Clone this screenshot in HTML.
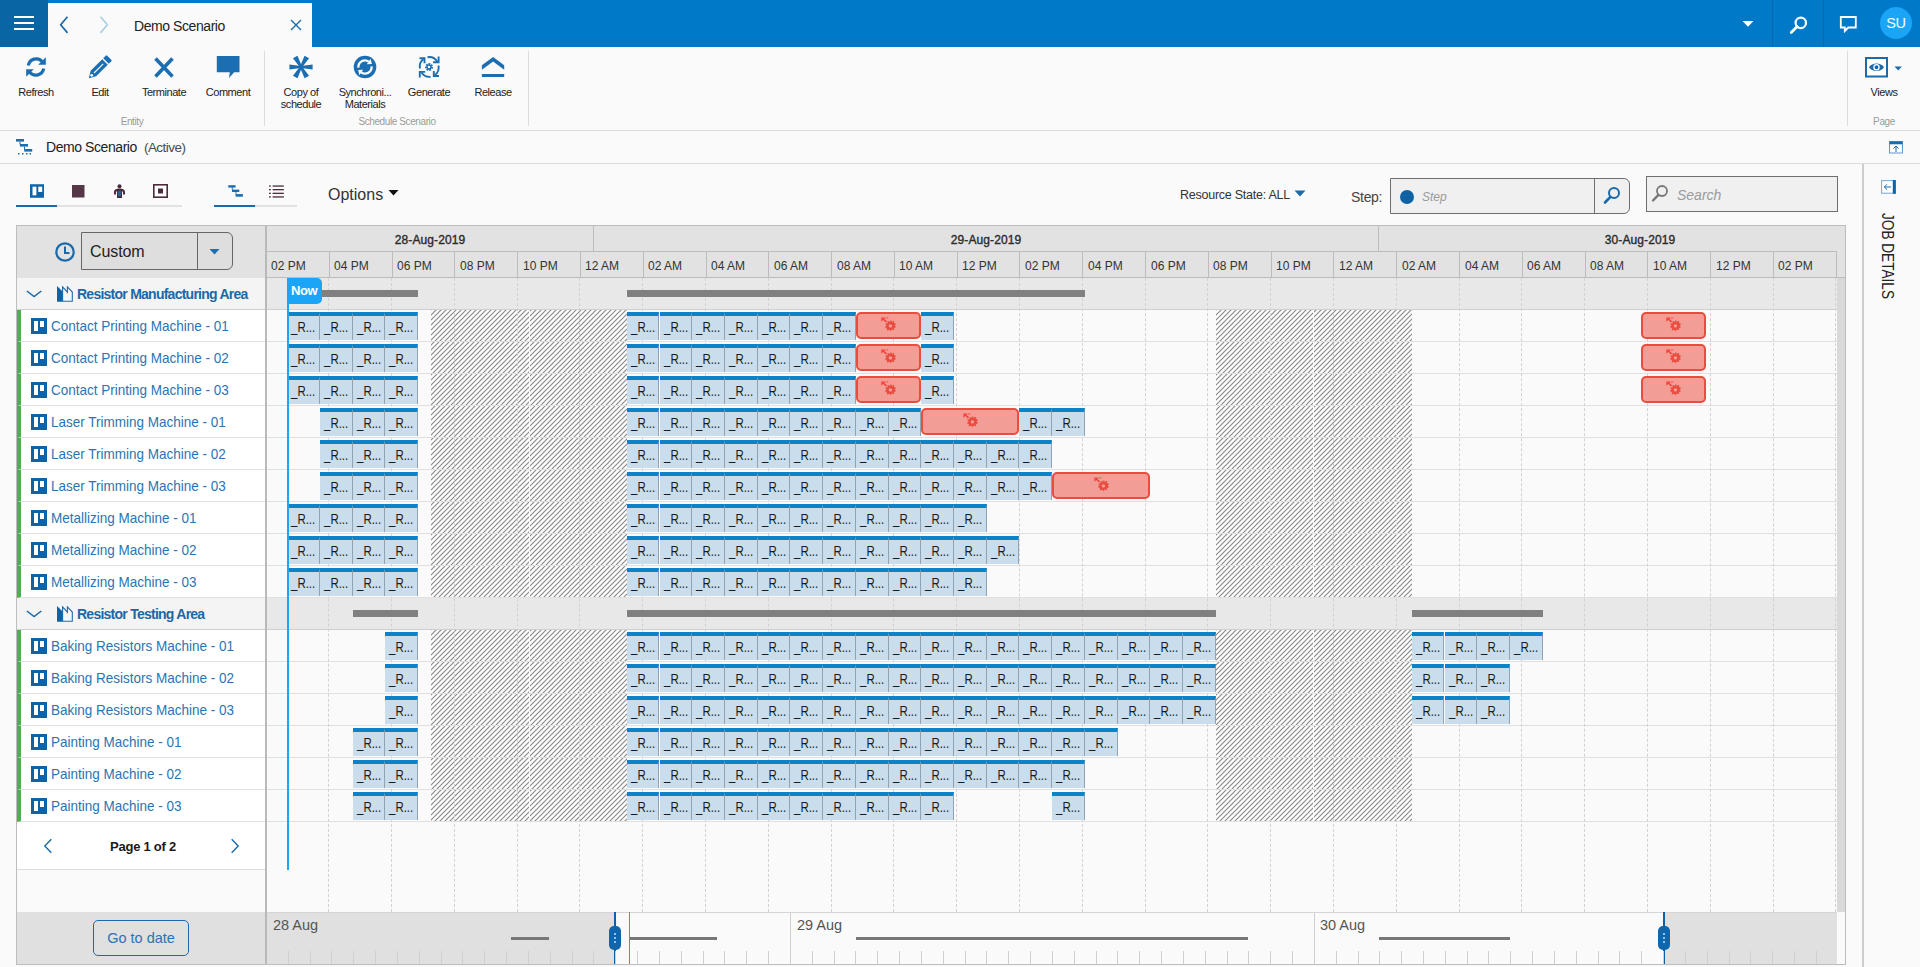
<!DOCTYPE html><html><head><meta charset="utf-8"><title>Demo Scenario</title><style>
*{box-sizing:border-box;margin:0;padding:0}
html,body{width:1920px;height:967px;overflow:hidden;background:#fafafa;font-family:"Liberation Sans",sans-serif;color:#222}
body{position:relative}
div,span,i,b,s,svg{position:absolute}
i,b{font-style:normal;font-weight:normal}
/* ---------- top bar ---------- */
#bar{left:0;top:0;width:1920px;height:47px;background:#0079c8}
#ham{left:0;top:0;width:48px;height:47px;background:#0a65a5}
#ham s{left:14px;width:20px;height:2px;background:#fff}
#tab{left:48px;top:3px;width:264px;height:44px;background:#fafafa}
#tabt{left:134px;top:16px;font-size:14px;letter-spacing:-.43px;line-height:20px;color:#222;white-space:nowrap}
.sepb{top:0;width:1px;height:47px;background:#0a68b0}
#av{left:1880px;top:7px;width:32px;height:32px;border-radius:50%;background:#1ba5f7;color:#fff;font-size:14.5px;line-height:33px;text-align:center;letter-spacing:-.3px}
/* ---------- ribbon ---------- */
#rib{left:0;top:47px;width:1920px;height:84px;background:#fafafa;border-bottom:1px solid #dcdcdc}
.rb{top:53px;width:64px;height:60px}
.rb svg{left:20px;top:2px;width:24px;height:24px}
.rb span{left:-8px;width:80px;top:33px;text-align:center;font-size:11px;letter-spacing:-.45px;line-height:12px;color:#222}
.rsep{top:51px;width:1px;height:75px;background:#dcdcdc}
.rgl{top:115.5px;font-size:10px;letter-spacing:-.4px;line-height:12px;color:#9a9a9a;width:120px;text-align:center}
/* title row */
#trow{left:0;top:131px;width:1920px;height:33px;border-bottom:1px solid #dcdcdc}
#tt{left:46px;top:137px;font-size:14px;letter-spacing:-.43px;line-height:20px;white-space:nowrap;color:#222}
#tt span{position:static;color:#4a4a4a;margin-left:7px;font-size:13.5px;letter-spacing:-.52px}
/* tool row */
.ul{top:205px;height:2px;background:#e2e2e2}
.ula{top:205px;height:2px;background:#1b6aa9}
#opt{left:328px;top:184px;font-size:16px;line-height:22px;color:#333}
.ibox{border:1px solid #6f6f6f;background:#f0f0f0}
.ph{font-style:italic;color:#9a9a9a}
/* ---------- chart ---------- */
#chart{left:0;top:0;width:1920px;height:967px}
.frame{left:16px;top:225px;width:1830px;height:740px;border:1px solid #bdbdbd}
.hd{left:266px;top:226px;width:1579px;height:52px;background:#e2e2e2;border-bottom:1px solid #bcbcbc}
.hd2{left:266px;top:251px;width:1571px;height:1px;background:#bcbcbc}
.dv{top:226px;width:1px;height:26px;background:#bcbcbc}
.dl{top:233px;width:100px;text-align:center;font-size:12px;-webkit-text-stroke:.35px #2a2a2a;letter-spacing:.1px;line-height:14px;color:#2a2a2a}
.tk{top:252px;width:1px;height:26px;background:#bcbcbc}
.hl{top:259px;font-size:12px;line-height:14px;color:#333;white-space:nowrap}
.body{left:267px;top:278px;width:1570px;height:634px;background:#fafafa}
.grow{left:267px;width:1570px;height:32px;background:#e8e8e8;border-bottom:1px solid #cfcfcf}
.rl{left:267px;width:1570px;height:1px;background:#e0e0e0}
.dt{top:278px;width:0;height:634px;border-left:1px dashed #d2d2d2}
.hx{top:310px;width:1px;height:288px;background:rgba(255,255,255,.9)}
.sb{height:7px;background:#808080}
i{height:28px;background:#c9ddec;border-top:4px solid #0c82c9;border-right:1px solid #8fa3b5;overflow:hidden}
u{position:absolute;left:3.6px;top:0;text-decoration:none;font-size:14px;line-height:22px;color:#1a1a1a;white-space:nowrap;transform-origin:0 0;transform:scaleX(.82)}
b{height:27px;background:#f29d95;border:2px solid #ea4c40;border-radius:5px}
b .g{left:50%;top:1.8px;margin-left:-8.3px;width:16px;height:16px}
.vs{left:1837px;top:278px;width:8px;height:634px;background:#d9d9d9}
.nowl{left:287px;top:278px;width:2px;height:592px;background:#1ba5f7}
.nowf{left:287px;top:278px;width:35px;height:26px;background:#1ba5f7;border-radius:0 5px 5px 0;color:#fff;font-size:13px;font-weight:bold;letter-spacing:-.4px;line-height:26px;padding-left:4px}
/* left panel */
#left{left:0;top:0}
.lbg{left:17px;top:226px;width:248px;height:738px;background:#fafafa}
.lbr{left:265px;top:226px;width:2px;height:738px;background:#b9b9b9}
.lh{left:17px;top:226px;width:248px;height:52px;background:#e2e2e2}
.lg{left:17px;width:248px;height:32px;background:#f4f4f4;border-bottom:1px solid #cfcfcf}
.lg .chev{left:9px;top:12px;width:16px;height:8px}
.lg .fac{left:40px;top:8px;width:16px;height:16px}
.lg span{left:60px;top:7px;font-size:14px;font-weight:bold;letter-spacing:-.75px;line-height:18px;color:#1b68a8;white-space:nowrap}
.lr{left:17px;width:248px;height:32px;background:#fff;border-bottom:1px solid #e0e0e0;border-left:4px solid #4caf50}
.lr .ri{left:10px;top:8px;width:16px;height:16px}
.lr span{left:30px;top:7px;font-size:15px;line-height:18px;color:#2b74b3;white-space:nowrap;transform-origin:0 0;transform:scaleX(.9)}
.pg{left:17px;top:822px;width:248px;height:48px;background:#fff;border-bottom:1px solid #dcdcdc}
.pgt{left:17px;top:839px;width:252px;text-align:center;font-size:13px;font-weight:bold;letter-spacing:-.25px;line-height:16px;color:#1a1a1a}
.lf{left:17px;top:912px;width:248px;height:52px;background:#e0e0e0}
.gtd{left:93px;top:920px;width:96px;height:36px;border:1px solid #1b6aad;border-radius:5px;color:#2b72b2;font-size:14.5px;line-height:34px;text-align:center}
/* mini timeline */
.mbg{left:267px;top:912px;width:1570px;height:52px;background:#fafafa;border-top:1px solid #d5d5d5}
.mg{top:913px;height:51px;background:#e0e0e0}
.ml{top:916px;font-size:14.5px;line-height:18px;color:#555;white-space:nowrap}
.md{top:913px;width:1px;height:51px;background:#cfcfcf}
.mt{top:951px;width:1px;height:13px;background:#cfcfcf}
.mb{top:937px;height:3px;background:#777}
.mh{top:912px;width:2px;height:52px;background:#0d5fa6}
.mk{top:926px;width:12px;height:24px;border-radius:5px;background:#0f66ad}
.mk s{left:5px;width:2px;height:2px;background:#8cc4ee}
/* right */
#rp{left:1862px;top:164px;width:2px;height:803px;background:#cdcdcd}
#jd{left:1888.2px;top:212.5px;width:0;height:0}
#jd span{left:0;top:-9px;transform-origin:0 50%;transform:rotate(90deg) scaleX(.825);font-size:16.5px;line-height:18px;height:18px;white-space:nowrap;color:#222}

</style></head><body>
<svg width="0" height="0" style="left:-10px;top:-10px"><defs>
<g id="gear"><path fill="#ea4c40" d="M10.2 4.3l1 .2.3 1.2 1-.1.9-.8.8.6-.4 1.1.7.8 1.2.1.2 1-1 .6v1l1 .6-.2 1-1.2.1-.7.8.4 1.1-.8.6-.9-.8-1 .1-.3 1.2-1 .2-.6-1-1-.2-1 .7-.8-.5.2-1.200-.6-.9-1.200-.2-.1-1 1.100-.5.100-1-.9-.8.3-1 1.200.1.800-.8-.3-1.200.9-.5.900.8 1-.3zM10.400 8.200a1.700 1.700 0 1 0 .01 0z" fill-rule="evenodd"/><path fill="#ea4c40" d="M1.300 1.400h4.600L4.500 2.800l2.600 2.400-1.300 1.300-2.500-2.500-2 1.800z"/><path fill="#ea4c40" d="M6.200 1.400h2.600l-1.200 1.100-1.400.1z"/></g>
</defs></svg>
<div id="bar"></div>
<div id="ham"><s style="top:16px"></s><s style="top:22px"></s><s style="top:28px"></s></div>
<div id="tab"></div>
<svg style="left:58px;top:15px" width="12" height="20" viewBox="0 0 12 20"><path d="M9.500 1.700L2.700 9.800l6.800 8.100" fill="none" stroke="#1b6aa9" stroke-width="1.700"/></svg>
<svg style="left:98px;top:15px" width="12" height="20" viewBox="0 0 12 20"><path d="M2.500 1.700l6.800 8.100-6.800 8.100" fill="none" stroke="#a9d0e4" stroke-width="1.700"/></svg>
<div id="tabt">Demo Scenario</div>
<svg style="left:290px;top:19px" width="12" height="12" viewBox="0 0 12 12"><path d="M1 1l10 10M11 1L1 11" fill="none" stroke="#1b6aa9" stroke-width="1.400"/></svg>
<svg style="left:1742px;top:21px" width="12" height="6" viewBox="0 0 12 6"><path d="M.500 0h11L6 5.800z" fill="#fff"/></svg>
<div class="sepb" style="left:1772px"></div><div class="sepb" style="left:1823px"></div>
<svg style="left:1788px;top:14px" width="22" height="22" viewBox="0 0 22 22"><circle cx="12.800" cy="8.900" r="5.200" fill="none" stroke="#fff" stroke-width="2.200"/><path d="M9.200 12.600L3.200 18.400" stroke="#fff" stroke-width="2.800" stroke-linecap="round"/></svg>
<svg style="left:1838px;top:14px" width="20" height="20" viewBox="0 0 20 20"><path d="M2.800 3h15v10.500h-7.500L6.800 17v-3.500h-4z" fill="none" stroke="#fff" stroke-width="1.800" stroke-linejoin="miter"/></svg>
<div id="av">SU</div>

<div id="rib"></div>
<div class="rb" style="left:4px"><svg viewBox="0 0 24 24"><path d="M4.300 10.500a8 8 0 0 1 14-3.800" fill="none" stroke="#1b6eb2" stroke-width="3.200"/><path d="M21.800 2.200v7.600h-7.600z" fill="#1b6eb2"/><path d="M19.700 13.500a8 8 0 0 1-14 3.800" fill="none" stroke="#1b6eb2" stroke-width="3.200"/><path d="M2.200 21.800v-7.600h7.600z" fill="#1b6eb2"/></svg><span>Refresh</span></div>
<div class="rb" style="left:68px"><svg viewBox="0 0 24 24"><path d="M.8 23.200L2.650 15.850 14.250 4.250l5.500 5.500L8.150 21.350z" fill="#1b6eb2"/><path d="M15.250 3.250L17.800.700a1 1 0 0 1 1.400 0l4.100 4.100a1 1 0 0 1 0 1.400L20.750 8.750z" fill="#1b6eb2"/><path d="M6 18l9.200-9.200" stroke="#fafafa" stroke-width="1.100"/><circle cx="3.700" cy="20.300" r="1.400" fill="#fafafa"/></svg><span>Edit</span></div>
<div class="rb" style="left:132px"><svg viewBox="0 0 24 24"><path d="M3.500 3.500l17 18M20.500 3.500l-17 18" stroke="#1b6eb2" stroke-width="3.600" fill="none"/></svg><span>Terminate</span></div>
<div class="rb" style="left:196px"><svg viewBox="0 0 24 24"><path d="M.800 1h22.700v16.200h-5.300L13 23l.8-5.800H.800z" fill="#1b6eb2"/></svg><span>Comment</span></div>
<div class="rsep" style="left:264px"></div>
<div class="rgl" style="left:72px">Entity</div>
<div class="rb" style="left:269px"><svg viewBox="0 0 24 24"><g fill="#1b6eb2" transform="translate(12 12)"><path id="arm" d="M-1.100 0L-2.600-11.600h5.200L1.100 0z" transform="rotate(30)"/><use href="#arm" transform="rotate(60)"/><use href="#arm" transform="rotate(120)"/><use href="#arm" transform="rotate(180)"/><use href="#arm" transform="rotate(240)"/><use href="#arm" transform="rotate(300)"/><circle r="2.200"/></g></svg><span>Copy of<br>schedule</span></div>
<div class="rb" style="left:333px"><svg viewBox="0 0 24 24"><circle cx="12" cy="12" r="11.300" fill="#1b6eb2"/><g id="sa"><path d="M5.430 12.600A6.600 6.600 0 0 1 15.800 6.600" fill="none" stroke="#fafafa" stroke-width="2.300"/><path d="M17.600 3.700l1.300 5.200-5.100.3z" fill="#fafafa"/></g><use href="#sa" transform="rotate(180 12 12)"/></svg><span>Synchroni...<br>Materials</span></div>
<div class="rb" style="left:397px"><svg viewBox="0 0 24 24"><g fill="none" stroke="#1b6eb2" stroke-width="1.900"><path d="M3 13.500A9.500 9.500 0 0 1 6.500 4"/><path d="M2.500 3.200h5v5"/><path d="M10.500 2.200a9.500 9.500 0 0 1 9.800 4.600"/><path d="M21.600 1.500v5.800h-5.600"/><path d="M21.500 10.500a9.500 9.500 0 0 1-3.700 9.500"/><path d="M22 21h-5.200v-5"/><path d="M13.500 21.800A9.500 9.500 0 0 1 4.500 17.500"/><path d="M2.800 22.500v-5.600h5.400"/></g><circle cx="12" cy="12" r="2.700" fill="none" stroke="#1b6eb2" stroke-width="2.600" stroke-dasharray="1.500 .9"/><circle cx="12" cy="12" r="2" fill="none" stroke="#1b6eb2" stroke-width="1.300"/></svg><span>Generate</span></div>
<div class="rb" style="left:461px"><svg viewBox="0 0 24 24"><path d="M12.100 2L23.200 10.300v4.500L12.100 6.500.900 14.800v-4.500z" fill="#1b6eb2"/><rect x=".9" y="19" width="22.300" height="3" fill="#1b6eb2"/></svg><span>Release</span></div>
<div class="rsep" style="left:528px"></div>
<div class="rgl" style="left:337px">Schedule Scenario</div>
<div class="rsep" style="left:1847px"></div>
<svg style="left:1865px;top:57px" width="38" height="21" viewBox="0 0 38 21"><rect x="1" y="1" width="21" height="18.500" fill="#fff" stroke="#1b6aa9" stroke-width="2"/><path d="M4 10.200c3-5 12-5 15 0c-3 5-12 5-15 0z" fill="#1b6aa9"/><circle cx="11.500" cy="10.200" r="2.600" fill="none" stroke="#fff" stroke-width="1.300"/><path d="M29.500 9.500h7.400l-3.700 4z" fill="#1b6aa9"/></svg>
<div class="rb" style="left:1852px"><span>Views</span></div>
<div class="rgl" style="left:1824px">Page</div>

<div id="trow"></div>
<svg style="left:15px;top:138px" width="18" height="17" viewBox="0 0 18 17"><g fill="#1b6eb2"><rect x="1" y="1" width="8" height="2.600"/><rect x="5" y="6" width="8" height="2.600"/><rect x="9.200" y="11" width="8" height="2.600"/><rect x="4.500" y="3.600" width="1" height="3"/><rect x="9" y="8.600" width="1" height="3"/><rect x="3" y="15" width="1.500" height="1.500"/><rect x="7" y="15" width="1.500" height="1.500"/><rect x="11" y="15" width="1.500" height="1.500"/><rect x="14.500" y="15" width="1.500" height="1.500"/></g></svg>
<div id="tt">Demo Scenario<span>(Active)</span></div>
<svg style="left:1889px;top:141px" width="14" height="13" viewBox="0 0 14 13"><rect x=".500" y=".500" width="13" height="11.500" fill="#fff" stroke="#4f8fc4" stroke-width=".9"/><rect x=".500" y=".500" width="13" height="2.800" fill="#1b6aa9"/><path d="M7 11V5.200M4.400 7.600L7 5l2.600 2.600" fill="none" stroke="#1b6aa9" stroke-width="1"/></svg>

<!-- tool row -->
<div class="ul" style="left:16px;width:166px"></div><div class="ula" style="left:16px;width:41px"></div>
<div class="ul" style="left:214px;width:83px"></div><div class="ula" style="left:214px;width:41px"></div>
<svg style="left:29.700px;top:184px" width="14.500" height="14" viewBox="0 0 15 14"><rect width="15" height="14" fill="#0f63a5"/><rect x="2.600" y="2.500" width="4" height="9" fill="#fff"/><rect x="8.600" y="2.500" width="4" height="5.500" fill="#fff"/></svg>
<svg style="left:72px;top:185px" width="13" height="13" viewBox="0 0 13 13"><rect width="12.500" height="12.500" fill="#553747"/></svg>
<svg style="left:113px;top:184px" width="13" height="14" viewBox="0 0 13 14"><circle cx="6.500" cy="2.200" r="2" fill="#4a2b3c"/><path d="M1 8.500c0-3 2-4 5.500-4s5.500 1 5.500 4v2h-2v-3h-1v6.500h-5v-6.500h-1v3h-2z" fill="#4a2b3c"/><rect x="5" y="7" width="3" height="5" fill="#2d5f96"/></svg>
<svg style="left:153px;top:184px" width="15" height="14" viewBox="0 0 15 14"><rect x=".800" y=".800" width="13.400" height="12.400" fill="#fff" stroke="#4a2b3c" stroke-width="1.600"/><rect x="5" y="4.500" width="5" height="5" fill="#4a2b3c"/></svg>
<svg style="left:227.500px;top:185px" width="16" height="13" viewBox="0 0 16 13"><g fill="#1b6eb2"><rect x=".300" y=".200" width="7.300" height="2.400"/><rect x="4" y="4.600" width="7.300" height="2.400"/><rect x="7.600" y="9.100" width="7.300" height="2.600"/><rect x="3.800" y="2" width=".9" height="3"/><rect x="7.500" y="6.500" width=".9" height="3"/></g></svg>
<svg style="left:268.500px;top:184.500px" width="16" height="14" viewBox="0 0 16 14"><g fill="#4a2b3c"><rect x="0" y=".4" width="1.800" height="1.300"/><rect x="3.600" y=".4" width="11.200" height="1.300"/><rect x="0" y="4" width="1.800" height="1.300"/><rect x="3.600" y="4" width="11.200" height="1.300"/><rect x="0" y="7.700" width="1.800" height="1.300"/><rect x="3.600" y="7.700" width="11.200" height="1.300"/><rect x="0" y="11.300" width="1.800" height="1.300"/><rect x="3.600" y="11.300" width="11.200" height="1.300"/></g></svg>
<div id="opt">Options</div>
<svg style="left:388px;top:190px" width="11" height="6" viewBox="0 0 11 6"><path d="M.500 0h10L5.500 5.500z" fill="#111"/></svg>
<div style="left:1180px;top:187px;font-size:12.500px;letter-spacing:-.250px;line-height:16px;color:#333;white-space:nowrap">Resource State: ALL</div>
<svg style="left:1294px;top:190px" width="12" height="7" viewBox="0 0 12 7"><path d="M.500 .500h11L6 6.500z" fill="#1b6aa9"/></svg>
<div style="left:1351px;top:188px;font-size:14px;letter-spacing:-.300px;line-height:18px;color:#444">Step:</div>
<div class="ibox" style="left:1390px;top:178px;width:240px;height:36px;border-radius:0 6px 6px 0"></div>
<div style="left:1594px;top:179px;width:1px;height:34px;background:#6f6f6f"></div>
<div style="left:1400px;top:190px;width:14px;height:14px;border-radius:50%;background:#0f63a5"></div>
<div class="ph" style="left:1422px;top:189px;font-size:12px;line-height:16px">Step</div>
<svg style="left:1602px;top:185px" width="20" height="20" viewBox="0 0 20 20"><circle cx="12" cy="8" r="5" fill="none" stroke="#1b6aa9" stroke-width="2"/><path d="M8.400 11.800L3 17.500" stroke="#1b6aa9" stroke-width="2.600" stroke-linecap="round"/></svg>
<div class="ibox" style="left:1646px;top:176px;width:192px;height:36px"></div>
<svg style="left:1650px;top:183px" width="20" height="20" viewBox="0 0 20 20"><circle cx="12" cy="8" r="5" fill="none" stroke="#777" stroke-width="1.800"/><path d="M8.400 11.800L3 17.500" stroke="#777" stroke-width="2.400" stroke-linecap="round"/></svg>
<div class="ph" style="left:1677px;top:186px;font-size:14px;line-height:18px">Search</div>
<div class="frame"></div>

<div id="chart">
<div class="hd"></div>
<div class="hd2"></div>
<div class="dv" style="left:593px"></div>
<div class="dv" style="left:1378px"></div>
<div class="dl" style="left:380px">28-Aug-2019</div>
<div class="dl" style="left:936px">29-Aug-2019</div>
<div class="dl" style="left:1590px">30-Aug-2019</div>
<div class="hl" style="left:271px">02 PM</div>
<div class="tk" style="left:329px"></div>
<div class="hl" style="left:334px">04 PM</div>
<div class="tk" style="left:392px"></div>
<div class="hl" style="left:397px">06 PM</div>
<div class="tk" style="left:454px"></div>
<div class="hl" style="left:460px">08 PM</div>
<div class="tk" style="left:517px"></div>
<div class="hl" style="left:523px">10 PM</div>
<div class="tk" style="left:580px"></div>
<div class="hl" style="left:585px">12 AM</div>
<div class="tk" style="left:643px"></div>
<div class="hl" style="left:648px">02 AM</div>
<div class="tk" style="left:706px"></div>
<div class="hl" style="left:711px">04 AM</div>
<div class="tk" style="left:768px"></div>
<div class="hl" style="left:774px">06 AM</div>
<div class="tk" style="left:831px"></div>
<div class="hl" style="left:837px">08 AM</div>
<div class="tk" style="left:894px"></div>
<div class="hl" style="left:899px">10 AM</div>
<div class="tk" style="left:957px"></div>
<div class="hl" style="left:962px">12 PM</div>
<div class="tk" style="left:1019px"></div>
<div class="hl" style="left:1025px">02 PM</div>
<div class="tk" style="left:1082px"></div>
<div class="hl" style="left:1088px">04 PM</div>
<div class="tk" style="left:1145px"></div>
<div class="hl" style="left:1151px">06 PM</div>
<div class="tk" style="left:1208px"></div>
<div class="hl" style="left:1213px">08 PM</div>
<div class="tk" style="left:1271px"></div>
<div class="hl" style="left:1276px">10 PM</div>
<div class="tk" style="left:1333px"></div>
<div class="hl" style="left:1339px">12 AM</div>
<div class="tk" style="left:1396px"></div>
<div class="hl" style="left:1402px">02 AM</div>
<div class="tk" style="left:1459px"></div>
<div class="hl" style="left:1465px">04 AM</div>
<div class="tk" style="left:1522px"></div>
<div class="hl" style="left:1527px">06 AM</div>
<div class="tk" style="left:1585px"></div>
<div class="hl" style="left:1590px">08 AM</div>
<div class="tk" style="left:1647px"></div>
<div class="hl" style="left:1653px">10 AM</div>
<div class="tk" style="left:1710px"></div>
<div class="hl" style="left:1716px">12 PM</div>
<div class="tk" style="left:1773px"></div>
<div class="hl" style="left:1778px">02 PM</div>
<div class="tk" style="left:1836px"></div>
<div class="body"></div>
<div class="grow" style="top:278px"></div><div class="grow" style="top:598px"></div>
<svg style="left:0;top:0" width="1920" height="967"><defs><pattern id="hp" width="5" height="5" patternUnits="userSpaceOnUse" patternTransform="translate(1 0)"><rect width="5" height="5" fill="#fff"/><path d="M-1 1l2-2M-1 6l7-7M4 6l2-2" stroke="#8a8a8a" stroke-width="1.200"/></pattern></defs>
<rect x="431" y="310" width="196" height="288" fill="url(#hp)"/>
<rect x="431" y="630" width="196" height="192" fill="url(#hp)"/>
<rect x="1216" y="310" width="196" height="288" fill="url(#hp)"/>
<rect x="1216" y="630" width="196" height="192" fill="url(#hp)"/>
</svg>
<div class="hx" style="left:529px"></div><div class="hx" style="left:1313px"></div><div class="hx" style="left:529px;top:630px;height:192px"></div><div class="hx" style="left:1313px;top:630px;height:192px"></div>
<div class="rl" style="top:341px"></div>
<div class="rl" style="top:373px"></div>
<div class="rl" style="top:405px"></div>
<div class="rl" style="top:437px"></div>
<div class="rl" style="top:469px"></div>
<div class="rl" style="top:501px"></div>
<div class="rl" style="top:533px"></div>
<div class="rl" style="top:565px"></div>
<div class="rl" style="top:597px"></div>
<div class="rl" style="top:661px"></div>
<div class="rl" style="top:693px"></div>
<div class="rl" style="top:725px"></div>
<div class="rl" style="top:757px"></div>
<div class="rl" style="top:789px"></div>
<div class="rl" style="top:821px"></div>
<div class="dt" style="left:328px"></div>
<div class="dt" style="left:391px"></div>
<div class="dt" style="left:454px"></div>
<div class="dt" style="left:517px"></div>
<div class="dt" style="left:579px"></div>
<div class="dt" style="left:642px"></div>
<div class="dt" style="left:705px"></div>
<div class="dt" style="left:768px"></div>
<div class="dt" style="left:831px"></div>
<div class="dt" style="left:893px"></div>
<div class="dt" style="left:956px"></div>
<div class="dt" style="left:1019px"></div>
<div class="dt" style="left:1082px"></div>
<div class="dt" style="left:1145px"></div>
<div class="dt" style="left:1207px"></div>
<div class="dt" style="left:1270px"></div>
<div class="dt" style="left:1333px"></div>
<div class="dt" style="left:1396px"></div>
<div class="dt" style="left:1459px"></div>
<div class="dt" style="left:1521px"></div>
<div class="dt" style="left:1584px"></div>
<div class="dt" style="left:1647px"></div>
<div class="dt" style="left:1710px"></div>
<div class="dt" style="left:1773px"></div>
<div class="dt" style="left:1835px"></div>
<div class="sb" style="left:287px;top:290px;width:131px"></div>
<div class="sb" style="left:627px;top:290px;width:458px"></div>
<div class="sb" style="left:353px;top:610px;width:65px"></div>
<div class="sb" style="left:627px;top:610px;width:589px"></div>
<div class="sb" style="left:1412px;top:610px;width:131px"></div>
<i style="left:287px;top:312px;width:33px"><u>_R...</u></i><i style="left:320px;top:312px;width:33px"><u>_R...</u></i><i style="left:353px;top:312px;width:32px"><u>_R...</u></i><i style="left:385px;top:312px;width:33px"><u>_R...</u></i><i style="left:627px;top:312px;width:32px"><u>_R...</u></i><i style="left:660px;top:312px;width:32px"><u>_R...</u></i><i style="left:692px;top:312px;width:33px"><u>_R...</u></i><i style="left:725px;top:312px;width:33px"><u>_R...</u></i><i style="left:758px;top:312px;width:32px"><u>_R...</u></i><i style="left:790px;top:312px;width:33px"><u>_R...</u></i><i style="left:823px;top:312px;width:33px"><u>_R...</u></i><b style="left:856px;top:312px;width:65px"><svg class="g" viewBox="0 0 16 16"><use href="#gear"/></svg></b><i style="left:921px;top:312px;width:33px"><u>_R...</u></i><b style="left:1641px;top:312px;width:65px"><svg class="g" viewBox="0 0 16 16"><use href="#gear"/></svg></b>
<i style="left:287px;top:344px;width:33px"><u>_R...</u></i><i style="left:320px;top:344px;width:33px"><u>_R...</u></i><i style="left:353px;top:344px;width:32px"><u>_R...</u></i><i style="left:385px;top:344px;width:33px"><u>_R...</u></i><i style="left:627px;top:344px;width:32px"><u>_R...</u></i><i style="left:660px;top:344px;width:32px"><u>_R...</u></i><i style="left:692px;top:344px;width:33px"><u>_R...</u></i><i style="left:725px;top:344px;width:33px"><u>_R...</u></i><i style="left:758px;top:344px;width:32px"><u>_R...</u></i><i style="left:790px;top:344px;width:33px"><u>_R...</u></i><i style="left:823px;top:344px;width:33px"><u>_R...</u></i><b style="left:856px;top:344px;width:65px"><svg class="g" viewBox="0 0 16 16"><use href="#gear"/></svg></b><i style="left:921px;top:344px;width:33px"><u>_R...</u></i><b style="left:1641px;top:344px;width:65px"><svg class="g" viewBox="0 0 16 16"><use href="#gear"/></svg></b>
<i style="left:287px;top:376px;width:33px"><u>_R...</u></i><i style="left:320px;top:376px;width:33px"><u>_R...</u></i><i style="left:353px;top:376px;width:32px"><u>_R...</u></i><i style="left:385px;top:376px;width:33px"><u>_R...</u></i><i style="left:627px;top:376px;width:32px"><u>_R...</u></i><i style="left:660px;top:376px;width:32px"><u>_R...</u></i><i style="left:692px;top:376px;width:33px"><u>_R...</u></i><i style="left:725px;top:376px;width:33px"><u>_R...</u></i><i style="left:758px;top:376px;width:32px"><u>_R...</u></i><i style="left:790px;top:376px;width:33px"><u>_R...</u></i><i style="left:823px;top:376px;width:33px"><u>_R...</u></i><b style="left:856px;top:376px;width:65px"><svg class="g" viewBox="0 0 16 16"><use href="#gear"/></svg></b><i style="left:921px;top:376px;width:33px"><u>_R...</u></i><b style="left:1641px;top:376px;width:65px"><svg class="g" viewBox="0 0 16 16"><use href="#gear"/></svg></b>
<i style="left:320px;top:408px;width:33px"><u>_R...</u></i><i style="left:353px;top:408px;width:32px"><u>_R...</u></i><i style="left:385px;top:408px;width:33px"><u>_R...</u></i><i style="left:627px;top:408px;width:32px"><u>_R...</u></i><i style="left:660px;top:408px;width:32px"><u>_R...</u></i><i style="left:692px;top:408px;width:33px"><u>_R...</u></i><i style="left:725px;top:408px;width:33px"><u>_R...</u></i><i style="left:758px;top:408px;width:32px"><u>_R...</u></i><i style="left:790px;top:408px;width:33px"><u>_R...</u></i><i style="left:823px;top:408px;width:33px"><u>_R...</u></i><i style="left:856px;top:408px;width:33px"><u>_R...</u></i><i style="left:889px;top:408px;width:32px"><u>_R...</u></i><b style="left:921px;top:408px;width:98px"><svg class="g" viewBox="0 0 16 16"><use href="#gear"/></svg></b><i style="left:1019px;top:408px;width:33px"><u>_R...</u></i><i style="left:1052px;top:408px;width:33px"><u>_R...</u></i>
<i style="left:320px;top:440px;width:33px"><u>_R...</u></i><i style="left:353px;top:440px;width:32px"><u>_R...</u></i><i style="left:385px;top:440px;width:33px"><u>_R...</u></i><i style="left:627px;top:440px;width:32px"><u>_R...</u></i><i style="left:660px;top:440px;width:32px"><u>_R...</u></i><i style="left:692px;top:440px;width:33px"><u>_R...</u></i><i style="left:725px;top:440px;width:33px"><u>_R...</u></i><i style="left:758px;top:440px;width:32px"><u>_R...</u></i><i style="left:790px;top:440px;width:33px"><u>_R...</u></i><i style="left:823px;top:440px;width:33px"><u>_R...</u></i><i style="left:856px;top:440px;width:33px"><u>_R...</u></i><i style="left:889px;top:440px;width:32px"><u>_R...</u></i><i style="left:921px;top:440px;width:33px"><u>_R...</u></i><i style="left:954px;top:440px;width:33px"><u>_R...</u></i><i style="left:987px;top:440px;width:32px"><u>_R...</u></i><i style="left:1019px;top:440px;width:33px"><u>_R...</u></i>
<i style="left:320px;top:472px;width:33px"><u>_R...</u></i><i style="left:353px;top:472px;width:32px"><u>_R...</u></i><i style="left:385px;top:472px;width:33px"><u>_R...</u></i><i style="left:627px;top:472px;width:32px"><u>_R...</u></i><i style="left:660px;top:472px;width:32px"><u>_R...</u></i><i style="left:692px;top:472px;width:33px"><u>_R...</u></i><i style="left:725px;top:472px;width:33px"><u>_R...</u></i><i style="left:758px;top:472px;width:32px"><u>_R...</u></i><i style="left:790px;top:472px;width:33px"><u>_R...</u></i><i style="left:823px;top:472px;width:33px"><u>_R...</u></i><i style="left:856px;top:472px;width:33px"><u>_R...</u></i><i style="left:889px;top:472px;width:32px"><u>_R...</u></i><i style="left:921px;top:472px;width:33px"><u>_R...</u></i><i style="left:954px;top:472px;width:33px"><u>_R...</u></i><i style="left:987px;top:472px;width:32px"><u>_R...</u></i><i style="left:1019px;top:472px;width:33px"><u>_R...</u></i><b style="left:1052px;top:472px;width:98px"><svg class="g" viewBox="0 0 16 16"><use href="#gear"/></svg></b>
<i style="left:287px;top:504px;width:33px"><u>_R...</u></i><i style="left:320px;top:504px;width:33px"><u>_R...</u></i><i style="left:353px;top:504px;width:32px"><u>_R...</u></i><i style="left:385px;top:504px;width:33px"><u>_R...</u></i><i style="left:627px;top:504px;width:32px"><u>_R...</u></i><i style="left:660px;top:504px;width:32px"><u>_R...</u></i><i style="left:692px;top:504px;width:33px"><u>_R...</u></i><i style="left:725px;top:504px;width:33px"><u>_R...</u></i><i style="left:758px;top:504px;width:32px"><u>_R...</u></i><i style="left:790px;top:504px;width:33px"><u>_R...</u></i><i style="left:823px;top:504px;width:33px"><u>_R...</u></i><i style="left:856px;top:504px;width:33px"><u>_R...</u></i><i style="left:889px;top:504px;width:32px"><u>_R...</u></i><i style="left:921px;top:504px;width:33px"><u>_R...</u></i><i style="left:954px;top:504px;width:33px"><u>_R...</u></i>
<i style="left:287px;top:536px;width:33px"><u>_R...</u></i><i style="left:320px;top:536px;width:33px"><u>_R...</u></i><i style="left:353px;top:536px;width:32px"><u>_R...</u></i><i style="left:385px;top:536px;width:33px"><u>_R...</u></i><i style="left:627px;top:536px;width:32px"><u>_R...</u></i><i style="left:660px;top:536px;width:32px"><u>_R...</u></i><i style="left:692px;top:536px;width:33px"><u>_R...</u></i><i style="left:725px;top:536px;width:33px"><u>_R...</u></i><i style="left:758px;top:536px;width:32px"><u>_R...</u></i><i style="left:790px;top:536px;width:33px"><u>_R...</u></i><i style="left:823px;top:536px;width:33px"><u>_R...</u></i><i style="left:856px;top:536px;width:33px"><u>_R...</u></i><i style="left:889px;top:536px;width:32px"><u>_R...</u></i><i style="left:921px;top:536px;width:33px"><u>_R...</u></i><i style="left:954px;top:536px;width:33px"><u>_R...</u></i><i style="left:987px;top:536px;width:32px"><u>_R...</u></i>
<i style="left:287px;top:568px;width:33px"><u>_R...</u></i><i style="left:320px;top:568px;width:33px"><u>_R...</u></i><i style="left:353px;top:568px;width:32px"><u>_R...</u></i><i style="left:385px;top:568px;width:33px"><u>_R...</u></i><i style="left:627px;top:568px;width:32px"><u>_R...</u></i><i style="left:660px;top:568px;width:32px"><u>_R...</u></i><i style="left:692px;top:568px;width:33px"><u>_R...</u></i><i style="left:725px;top:568px;width:33px"><u>_R...</u></i><i style="left:758px;top:568px;width:32px"><u>_R...</u></i><i style="left:790px;top:568px;width:33px"><u>_R...</u></i><i style="left:823px;top:568px;width:33px"><u>_R...</u></i><i style="left:856px;top:568px;width:33px"><u>_R...</u></i><i style="left:889px;top:568px;width:32px"><u>_R...</u></i><i style="left:921px;top:568px;width:33px"><u>_R...</u></i><i style="left:954px;top:568px;width:33px"><u>_R...</u></i>
<i style="left:385px;top:632px;width:33px"><u>_R...</u></i><i style="left:627px;top:632px;width:32px"><u>_R...</u></i><i style="left:660px;top:632px;width:32px"><u>_R...</u></i><i style="left:692px;top:632px;width:33px"><u>_R...</u></i><i style="left:725px;top:632px;width:33px"><u>_R...</u></i><i style="left:758px;top:632px;width:32px"><u>_R...</u></i><i style="left:790px;top:632px;width:33px"><u>_R...</u></i><i style="left:823px;top:632px;width:33px"><u>_R...</u></i><i style="left:856px;top:632px;width:33px"><u>_R...</u></i><i style="left:889px;top:632px;width:32px"><u>_R...</u></i><i style="left:921px;top:632px;width:33px"><u>_R...</u></i><i style="left:954px;top:632px;width:33px"><u>_R...</u></i><i style="left:987px;top:632px;width:32px"><u>_R...</u></i><i style="left:1019px;top:632px;width:33px"><u>_R...</u></i><i style="left:1052px;top:632px;width:33px"><u>_R...</u></i><i style="left:1085px;top:632px;width:33px"><u>_R...</u></i><i style="left:1118px;top:632px;width:32px"><u>_R...</u></i><i style="left:1150px;top:632px;width:33px"><u>_R...</u></i><i style="left:1183px;top:632px;width:33px"><u>_R...</u></i><i style="left:1412px;top:632px;width:32px"><u>_R...</u></i><i style="left:1445px;top:632px;width:32px"><u>_R...</u></i><i style="left:1477px;top:632px;width:33px"><u>_R...</u></i><i style="left:1510px;top:632px;width:33px"><u>_R...</u></i>
<i style="left:385px;top:664px;width:33px"><u>_R...</u></i><i style="left:627px;top:664px;width:32px"><u>_R...</u></i><i style="left:660px;top:664px;width:32px"><u>_R...</u></i><i style="left:692px;top:664px;width:33px"><u>_R...</u></i><i style="left:725px;top:664px;width:33px"><u>_R...</u></i><i style="left:758px;top:664px;width:32px"><u>_R...</u></i><i style="left:790px;top:664px;width:33px"><u>_R...</u></i><i style="left:823px;top:664px;width:33px"><u>_R...</u></i><i style="left:856px;top:664px;width:33px"><u>_R...</u></i><i style="left:889px;top:664px;width:32px"><u>_R...</u></i><i style="left:921px;top:664px;width:33px"><u>_R...</u></i><i style="left:954px;top:664px;width:33px"><u>_R...</u></i><i style="left:987px;top:664px;width:32px"><u>_R...</u></i><i style="left:1019px;top:664px;width:33px"><u>_R...</u></i><i style="left:1052px;top:664px;width:33px"><u>_R...</u></i><i style="left:1085px;top:664px;width:33px"><u>_R...</u></i><i style="left:1118px;top:664px;width:32px"><u>_R...</u></i><i style="left:1150px;top:664px;width:33px"><u>_R...</u></i><i style="left:1183px;top:664px;width:33px"><u>_R...</u></i><i style="left:1412px;top:664px;width:32px"><u>_R...</u></i><i style="left:1445px;top:664px;width:32px"><u>_R...</u></i><i style="left:1477px;top:664px;width:33px"><u>_R...</u></i>
<i style="left:385px;top:696px;width:33px"><u>_R...</u></i><i style="left:627px;top:696px;width:32px"><u>_R...</u></i><i style="left:660px;top:696px;width:32px"><u>_R...</u></i><i style="left:692px;top:696px;width:33px"><u>_R...</u></i><i style="left:725px;top:696px;width:33px"><u>_R...</u></i><i style="left:758px;top:696px;width:32px"><u>_R...</u></i><i style="left:790px;top:696px;width:33px"><u>_R...</u></i><i style="left:823px;top:696px;width:33px"><u>_R...</u></i><i style="left:856px;top:696px;width:33px"><u>_R...</u></i><i style="left:889px;top:696px;width:32px"><u>_R...</u></i><i style="left:921px;top:696px;width:33px"><u>_R...</u></i><i style="left:954px;top:696px;width:33px"><u>_R...</u></i><i style="left:987px;top:696px;width:32px"><u>_R...</u></i><i style="left:1019px;top:696px;width:33px"><u>_R...</u></i><i style="left:1052px;top:696px;width:33px"><u>_R...</u></i><i style="left:1085px;top:696px;width:33px"><u>_R...</u></i><i style="left:1118px;top:696px;width:32px"><u>_R...</u></i><i style="left:1150px;top:696px;width:33px"><u>_R...</u></i><i style="left:1183px;top:696px;width:33px"><u>_R...</u></i><i style="left:1412px;top:696px;width:32px"><u>_R...</u></i><i style="left:1445px;top:696px;width:32px"><u>_R...</u></i><i style="left:1477px;top:696px;width:33px"><u>_R...</u></i>
<i style="left:353px;top:728px;width:32px"><u>_R...</u></i><i style="left:385px;top:728px;width:33px"><u>_R...</u></i><i style="left:627px;top:728px;width:32px"><u>_R...</u></i><i style="left:660px;top:728px;width:32px"><u>_R...</u></i><i style="left:692px;top:728px;width:33px"><u>_R...</u></i><i style="left:725px;top:728px;width:33px"><u>_R...</u></i><i style="left:758px;top:728px;width:32px"><u>_R...</u></i><i style="left:790px;top:728px;width:33px"><u>_R...</u></i><i style="left:823px;top:728px;width:33px"><u>_R...</u></i><i style="left:856px;top:728px;width:33px"><u>_R...</u></i><i style="left:889px;top:728px;width:32px"><u>_R...</u></i><i style="left:921px;top:728px;width:33px"><u>_R...</u></i><i style="left:954px;top:728px;width:33px"><u>_R...</u></i><i style="left:987px;top:728px;width:32px"><u>_R...</u></i><i style="left:1019px;top:728px;width:33px"><u>_R...</u></i><i style="left:1052px;top:728px;width:33px"><u>_R...</u></i><i style="left:1085px;top:728px;width:33px"><u>_R...</u></i>
<i style="left:353px;top:760px;width:32px"><u>_R...</u></i><i style="left:385px;top:760px;width:33px"><u>_R...</u></i><i style="left:627px;top:760px;width:32px"><u>_R...</u></i><i style="left:660px;top:760px;width:32px"><u>_R...</u></i><i style="left:692px;top:760px;width:33px"><u>_R...</u></i><i style="left:725px;top:760px;width:33px"><u>_R...</u></i><i style="left:758px;top:760px;width:32px"><u>_R...</u></i><i style="left:790px;top:760px;width:33px"><u>_R...</u></i><i style="left:823px;top:760px;width:33px"><u>_R...</u></i><i style="left:856px;top:760px;width:33px"><u>_R...</u></i><i style="left:889px;top:760px;width:32px"><u>_R...</u></i><i style="left:921px;top:760px;width:33px"><u>_R...</u></i><i style="left:954px;top:760px;width:33px"><u>_R...</u></i><i style="left:987px;top:760px;width:32px"><u>_R...</u></i><i style="left:1019px;top:760px;width:33px"><u>_R...</u></i><i style="left:1052px;top:760px;width:33px"><u>_R...</u></i>
<i style="left:353px;top:792px;width:32px"><u>_R...</u></i><i style="left:385px;top:792px;width:33px"><u>_R...</u></i><i style="left:627px;top:792px;width:32px"><u>_R...</u></i><i style="left:660px;top:792px;width:32px"><u>_R...</u></i><i style="left:692px;top:792px;width:33px"><u>_R...</u></i><i style="left:725px;top:792px;width:33px"><u>_R...</u></i><i style="left:758px;top:792px;width:32px"><u>_R...</u></i><i style="left:790px;top:792px;width:33px"><u>_R...</u></i><i style="left:823px;top:792px;width:33px"><u>_R...</u></i><i style="left:856px;top:792px;width:33px"><u>_R...</u></i><i style="left:889px;top:792px;width:32px"><u>_R...</u></i><i style="left:921px;top:792px;width:33px"><u>_R...</u></i><i style="left:1052px;top:792px;width:33px"><u>_R...</u></i>
<div class="vs"></div>
<div class="nowl"></div><div class="nowf">Now</div>
<div id="left">
<div class="lh"></div>
<div class="lbg"></div>
<div class="lh"></div>
<svg style="left:54px;top:241px" width="22" height="22" viewBox="0 0 22 22"><circle cx="11" cy="11" r="8.700" fill="none" stroke="#1b6aa9" stroke-width="2.200"/><path d="M11 5.500V12h4.500" fill="none" stroke="#1b6aa9" stroke-width="2"/></svg>
<div style="left:81px;top:232px;width:152px;height:38px;border:1px solid #666;border-radius:0 6px 6px 0;background:#dedede"></div>
<div style="left:197px;top:233px;width:1px;height:36px;background:#666"></div>
<div style="left:90px;top:242px;font-size:16px;letter-spacing:-.100px;line-height:20px;color:#222">Custom</div>
<svg style="left:209px;top:249px" width="11" height="6" viewBox="0 0 11 6"><path d="M.500 0h10L5.500 5.500z" fill="#1b6eb2"/></svg>

<div class="lg" style="top:278px"><svg class="chev" viewBox="0 0 16 8"><path d="M.9 1l7.200 5.600L15.300 1" fill="none" stroke="#1b6aa9" stroke-width="1.500"/></svg><svg class="fac" viewBox="0 0 16 16"><path d="M0 0l5.600 5.600v10.100H0z" fill="#0f63a5"/><path d="M5.600 .9l4.800 5.300V.9l4.900 5.100v9.200H5.600z" fill="#f8f8f8" stroke="#1b6aa9" stroke-width="1.100"/></svg><span>Resistor Manufacturing Area</span></div>
<div class="lr" style="top:310px"><svg class="ri" viewBox="0 0 16 16"><rect width="16" height="16" fill="#0f63a5"/><rect x="3" y="3" width="4" height="10" fill="#fff"/><rect x="9" y="3" width="4" height="6" fill="#fff"/></svg><span>Contact Printing Machine - 01</span></div>
<div class="lr" style="top:342px"><svg class="ri" viewBox="0 0 16 16"><rect width="16" height="16" fill="#0f63a5"/><rect x="3" y="3" width="4" height="10" fill="#fff"/><rect x="9" y="3" width="4" height="6" fill="#fff"/></svg><span>Contact Printing Machine - 02</span></div>
<div class="lr" style="top:374px"><svg class="ri" viewBox="0 0 16 16"><rect width="16" height="16" fill="#0f63a5"/><rect x="3" y="3" width="4" height="10" fill="#fff"/><rect x="9" y="3" width="4" height="6" fill="#fff"/></svg><span>Contact Printing Machine - 03</span></div>
<div class="lr" style="top:406px"><svg class="ri" viewBox="0 0 16 16"><rect width="16" height="16" fill="#0f63a5"/><rect x="3" y="3" width="4" height="10" fill="#fff"/><rect x="9" y="3" width="4" height="6" fill="#fff"/></svg><span>Laser Trimming Machine - 01</span></div>
<div class="lr" style="top:438px"><svg class="ri" viewBox="0 0 16 16"><rect width="16" height="16" fill="#0f63a5"/><rect x="3" y="3" width="4" height="10" fill="#fff"/><rect x="9" y="3" width="4" height="6" fill="#fff"/></svg><span>Laser Trimming Machine - 02</span></div>
<div class="lr" style="top:470px"><svg class="ri" viewBox="0 0 16 16"><rect width="16" height="16" fill="#0f63a5"/><rect x="3" y="3" width="4" height="10" fill="#fff"/><rect x="9" y="3" width="4" height="6" fill="#fff"/></svg><span>Laser Trimming Machine - 03</span></div>
<div class="lr" style="top:502px"><svg class="ri" viewBox="0 0 16 16"><rect width="16" height="16" fill="#0f63a5"/><rect x="3" y="3" width="4" height="10" fill="#fff"/><rect x="9" y="3" width="4" height="6" fill="#fff"/></svg><span>Metallizing Machine - 01</span></div>
<div class="lr" style="top:534px"><svg class="ri" viewBox="0 0 16 16"><rect width="16" height="16" fill="#0f63a5"/><rect x="3" y="3" width="4" height="10" fill="#fff"/><rect x="9" y="3" width="4" height="6" fill="#fff"/></svg><span>Metallizing Machine - 02</span></div>
<div class="lr" style="top:566px"><svg class="ri" viewBox="0 0 16 16"><rect width="16" height="16" fill="#0f63a5"/><rect x="3" y="3" width="4" height="10" fill="#fff"/><rect x="9" y="3" width="4" height="6" fill="#fff"/></svg><span>Metallizing Machine - 03</span></div>
<div class="lg" style="top:598px"><svg class="chev" viewBox="0 0 16 8"><path d="M.9 1l7.200 5.600L15.300 1" fill="none" stroke="#1b6aa9" stroke-width="1.500"/></svg><svg class="fac" viewBox="0 0 16 16"><path d="M0 0l5.600 5.600v10.100H0z" fill="#0f63a5"/><path d="M5.600 .9l4.800 5.300V.9l4.900 5.100v9.200H5.600z" fill="#f8f8f8" stroke="#1b6aa9" stroke-width="1.100"/></svg><span>Resistor Testing Area</span></div>
<div class="lr" style="top:630px"><svg class="ri" viewBox="0 0 16 16"><rect width="16" height="16" fill="#0f63a5"/><rect x="3" y="3" width="4" height="10" fill="#fff"/><rect x="9" y="3" width="4" height="6" fill="#fff"/></svg><span>Baking Resistors Machine - 01</span></div>
<div class="lr" style="top:662px"><svg class="ri" viewBox="0 0 16 16"><rect width="16" height="16" fill="#0f63a5"/><rect x="3" y="3" width="4" height="10" fill="#fff"/><rect x="9" y="3" width="4" height="6" fill="#fff"/></svg><span>Baking Resistors Machine - 02</span></div>
<div class="lr" style="top:694px"><svg class="ri" viewBox="0 0 16 16"><rect width="16" height="16" fill="#0f63a5"/><rect x="3" y="3" width="4" height="10" fill="#fff"/><rect x="9" y="3" width="4" height="6" fill="#fff"/></svg><span>Baking Resistors Machine - 03</span></div>
<div class="lr" style="top:726px"><svg class="ri" viewBox="0 0 16 16"><rect width="16" height="16" fill="#0f63a5"/><rect x="3" y="3" width="4" height="10" fill="#fff"/><rect x="9" y="3" width="4" height="6" fill="#fff"/></svg><span>Painting Machine - 01</span></div>
<div class="lr" style="top:758px"><svg class="ri" viewBox="0 0 16 16"><rect width="16" height="16" fill="#0f63a5"/><rect x="3" y="3" width="4" height="10" fill="#fff"/><rect x="9" y="3" width="4" height="6" fill="#fff"/></svg><span>Painting Machine - 02</span></div>
<div class="lr" style="top:790px"><svg class="ri" viewBox="0 0 16 16"><rect width="16" height="16" fill="#0f63a5"/><rect x="3" y="3" width="4" height="10" fill="#fff"/><rect x="9" y="3" width="4" height="6" fill="#fff"/></svg><span>Painting Machine - 03</span></div>
<div class="pg"></div>
<svg style="left:43px;top:838px" width="10" height="16" viewBox="0 0 10 16"><path d="M8.300 1.200L1.800 8l6.500 6.800" fill="none" stroke="#1b6aa9" stroke-width="1.400"/></svg>
<svg style="left:230px;top:838px" width="10" height="16" viewBox="0 0 10 16"><path d="M1.700 1.200L8.200 8l-6.500 6.800" fill="none" stroke="#1b6aa9" stroke-width="1.400"/></svg>
<div class="pgt">Page 1 of 2</div>
<div class="lf"></div>
<div class="gtd">Go to date</div>
<div class="lbr"></div>

</div>
<div class="mbg"></div>
<div class="mg" style="left:267px;width:348px"></div>
<div class="mg" style="left:1665px;width:172px"></div>
<div class="md" style="left:790px"></div><div class="md" style="left:1314px"></div>
<div class="ml" style="left:273px">28 Aug</div><div class="ml" style="left:797px">29 Aug</div><div class="ml" style="left:1320px">30 Aug</div>
<div class="mb" style="left:511px;width:38px"></div><div class="mb" style="left:629px;width:88px"></div><div class="mb" style="left:856px;width:392px"></div><div class="mb" style="left:1379px;width:131px"></div>
<div style="left:629px;top:912px;width:1px;height:52px;background:#1ba5f7"></div>
<div class="mh" style="left:614px"></div><div class="mk" style="left:609px"><s style="top:7px"></s><s style="top:11px"></s><s style="top:15px"></s></div>
<div class="mh" style="left:1663px"></div><div class="mk" style="left:1658px"><s style="top:7px"></s><s style="top:11px"></s><s style="top:15px"></s></div>

<div class="mt" style="left:288px"></div>
<div class="mt" style="left:310px"></div>
<div class="mt" style="left:331px"></div>
<div class="mt" style="left:353px"></div>
<div class="mt" style="left:375px"></div>
<div class="mt" style="left:397px"></div>
<div class="mt" style="left:419px"></div>
<div class="mt" style="left:441px"></div>
<div class="mt" style="left:462px"></div>
<div class="mt" style="left:484px"></div>
<div class="mt" style="left:506px"></div>
<div class="mt" style="left:528px"></div>
<div class="mt" style="left:550px"></div>
<div class="mt" style="left:572px"></div>
<div class="mt" style="left:593px"></div>
<div class="mt" style="left:615px"></div>
<div class="mt" style="left:637px"></div>
<div class="mt" style="left:659px"></div>
<div class="mt" style="left:681px"></div>
<div class="mt" style="left:703px"></div>
<div class="mt" style="left:724px"></div>
<div class="mt" style="left:746px"></div>
<div class="mt" style="left:768px"></div>
<div class="mt" style="left:790px"></div>
<div class="mt" style="left:812px"></div>
<div class="mt" style="left:834px"></div>
<div class="mt" style="left:855px"></div>
<div class="mt" style="left:877px"></div>
<div class="mt" style="left:899px"></div>
<div class="mt" style="left:921px"></div>
<div class="mt" style="left:943px"></div>
<div class="mt" style="left:965px"></div>
<div class="mt" style="left:986px"></div>
<div class="mt" style="left:1008px"></div>
<div class="mt" style="left:1030px"></div>
<div class="mt" style="left:1052px"></div>
<div class="mt" style="left:1074px"></div>
<div class="mt" style="left:1096px"></div>
<div class="mt" style="left:1117px"></div>
<div class="mt" style="left:1139px"></div>
<div class="mt" style="left:1161px"></div>
<div class="mt" style="left:1183px"></div>
<div class="mt" style="left:1205px"></div>
<div class="mt" style="left:1227px"></div>
<div class="mt" style="left:1248px"></div>
<div class="mt" style="left:1270px"></div>
<div class="mt" style="left:1292px"></div>
<div class="mt" style="left:1314px"></div>
<div class="mt" style="left:1336px"></div>
<div class="mt" style="left:1358px"></div>
<div class="mt" style="left:1379px"></div>
<div class="mt" style="left:1401px"></div>
<div class="mt" style="left:1423px"></div>
<div class="mt" style="left:1445px"></div>
<div class="mt" style="left:1467px"></div>
<div class="mt" style="left:1488px"></div>
<div class="mt" style="left:1510px"></div>
<div class="mt" style="left:1532px"></div>
<div class="mt" style="left:1554px"></div>
<div class="mt" style="left:1576px"></div>
<div class="mt" style="left:1598px"></div>
<div class="mt" style="left:1619px"></div>
<div class="mt" style="left:1641px"></div>
<div class="mt" style="left:1663px"></div>
<div class="mt" style="left:1685px"></div>
<div class="mt" style="left:1707px"></div>
<div class="mt" style="left:1729px"></div>
<div class="mt" style="left:1750px"></div>
<div class="mt" style="left:1772px"></div>
<div class="mt" style="left:1794px"></div>
<div class="mt" style="left:1816px"></div>
</div>
<div id="rp"></div>
<svg style="left:1881px;top:180px" width="15" height="14" viewBox="0 0 15 14"><rect x=".600" y=".600" width="13.600" height="12.600" fill="#fff" stroke="#7aa6cc" stroke-width="1"/><rect x="11.800" y="0" width="3" height="13.800" fill="#0f63a5"/><path d="M10 7H3.500M6 4.300L3.300 7 6 9.700" fill="none" stroke="#1b6aa9" stroke-width="1"/></svg>
<div id="jd"><span>JOB DETAILS</span></div>

</body></html>
